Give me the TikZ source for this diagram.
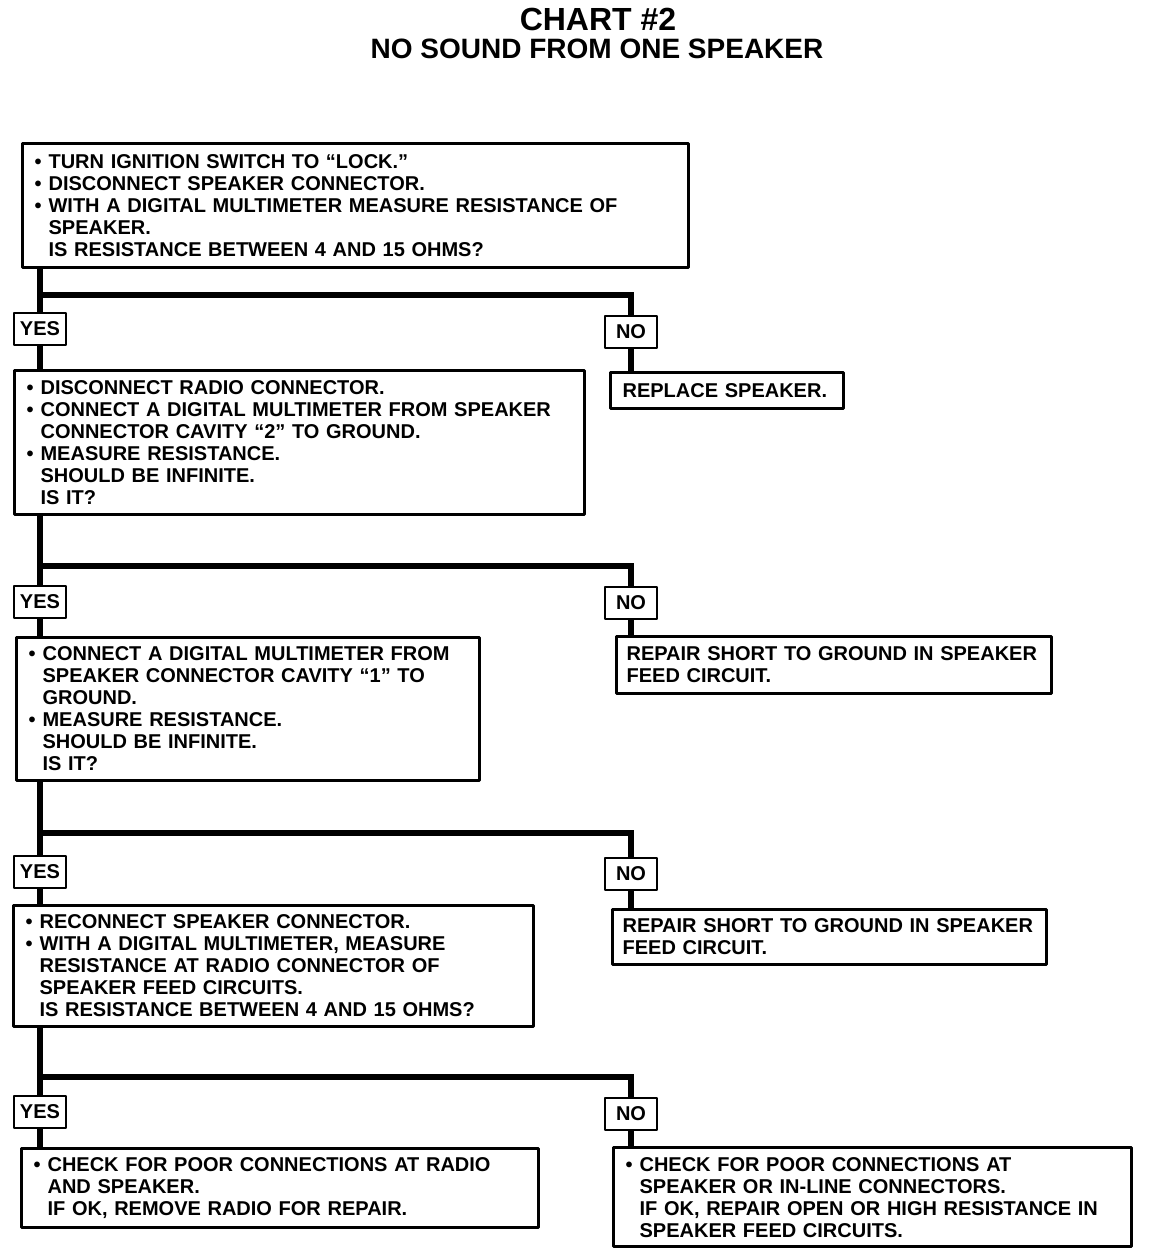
\documentclass[tikz,border=0pt]{standalone}
\usepackage{fontspec}
\setmainfont{Liberation Sans}
\newlength{\bulw}
\setlength{\bulw}{7pt}
\newcommand{\bul}{\makebox[\bulw][l]{\textbullet}}
\newcommand{\ind}{\hspace*{\bulw}}
\begin{document}
\begin{tikzpicture}[
    x=0.5pt, y=-0.5pt,
    stepbox/.style={draw, line width=1.6pt, anchor=north west, inner xsep=6pt,
      inner ysep=0pt, align=left, font=\fontsize{10}{11}\selectfont\bfseries},
    answer/.style={draw, line width=1.4pt, minimum width=26pt, minimum height=16pt,
      inner sep=1pt, text depth=0pt, font=\fontsize{10}{11}\selectfont\bfseries},
    conn/.style={line width=3pt, line join=miter},
  line join=round]

  \useasboundingbox (0,0) rectangle (1152,1254);

  % Title
  \node (title) at (598,19) {\fontsize{16}{18}\selectfont\bfseries CHART \#2};
  \node (subtitle) at (597,49) {\fontsize{14}{16}\selectfont\bfseries NO SOUND FROM ONE SPEAKER};

  % Steps (left column)
  \node [stepbox, text width=321pt, minimum height=62pt] (s1) at (21,142) {%
    \bul TURN IGNITION SWITCH TO “LOCK.”\\
    \bul DISCONNECT SPEAKER CONNECTOR.\\
    \bul WITH A DIGITAL MULTIMETER MEASURE RESISTANCE OF\\
    \ind SPEAKER.\\
    \ind IS RESISTANCE BETWEEN 4 AND 15 OHMS?};
  \node [stepbox, text width=273pt, minimum height=72pt] (s2) at (13,369) {%
    \bul DISCONNECT RADIO CONNECTOR.\\
    \bul CONNECT A DIGITAL MULTIMETER FROM SPEAKER\\
    \ind CONNECTOR CAVITY “2” TO GROUND.\\
    \bul MEASURE RESISTANCE.\\
    \ind SHOULD BE INFINITE.\\
    \ind IS IT?};
  \node [stepbox, text width=219.5pt, minimum height=71.5pt] (s3) at (15,636) {%
    \bul CONNECT A DIGITAL MULTIMETER FROM\\
    \ind SPEAKER CONNECTOR CAVITY “1” TO\\
    \ind GROUND.\\
    \bul MEASURE RESISTANCE.\\
    \ind SHOULD BE INFINITE.\\
    \ind IS IT?};
  \node [stepbox, text width=248pt, minimum height=60.5pt] (s4) at (12,904) {%
    \bul RECONNECT SPEAKER CONNECTOR.\\
    \bul WITH A DIGITAL MULTIMETER, MEASURE\\
    \ind RESISTANCE AT RADIO CONNECTOR OF\\
    \ind SPEAKER FEED CIRCUITS.\\
    \ind IS RESISTANCE BETWEEN 4 AND 15 OHMS?};
  \node [stepbox, text width=246.5pt, minimum height=39.5pt] (s5) at (20,1147) {%
    \bul CHECK FOR POOR CONNECTIONS AT RADIO\\
    \ind AND SPEAKER.\\
    \ind IF OK, REMOVE RADIO FOR REPAIR.};

  % Fixes (right column)
  \node [stepbox, text width=104.5pt, minimum height=18pt] (f1) at (609,371) {%
    REPLACE SPEAKER.};
  \node [stepbox, text width=207.5pt, inner xsep=5pt, minimum height=28.5pt] (f2) at (615,635) {%
    REPAIR SHORT TO GROUND IN SPEAKER\\
    FEED CIRCUIT.};
  \node [stepbox, text width=207pt, inner xsep=5pt, minimum height=27.5pt] (f3) at (611,908) {%
    REPAIR SHORT TO GROUND IN SPEAKER\\
    FEED CIRCUIT.};
  \node [stepbox, text width=247pt, minimum height=49.5pt] (f4) at (612,1146) {%
    \bul CHECK FOR POOR CONNECTIONS AT\\
    \ind SPEAKER OR IN-LINE CONNECTORS.\\
    \ind IF OK, REPAIR OPEN OR HIGH RESISTANCE IN\\
    \ind SPEAKER FEED CIRCUITS.};

  % Answers
  \foreach \i/\ya/\yb in {1/329/332, 2/602/603, 3/872/874, 4/1112/1114}{%
    \node [answer] (yes\i) at (40,\ya) {YES};
    \node [answer] (no\i) at (631,\yb) {NO};
  }

  % Connectors
  \foreach [evaluate={\k=int(\i+1);}] \i/\jy in {1/295, 2/566, 3/833, 4/1077}{%
    \coordinate (j\i) at (40,\jy);
    \draw [conn] (s\i.south -| yes\i.north) -- (yes\i.north);
    \draw [conn] (j\i) -| (no\i.north);
    \draw [conn] (yes\i.south) -- (yes\i.south |- s\k.north);
    \draw [conn] (no\i.south) -- (no\i.south |- f\i.north);
  }

\end{tikzpicture}
\end{document}
